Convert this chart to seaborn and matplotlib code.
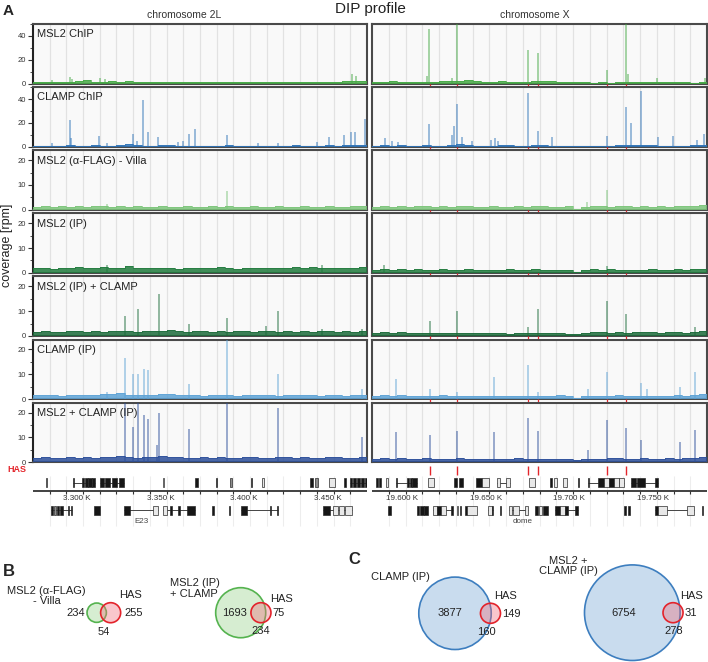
import numpy as np
import matplotlib.pyplot as plt
import seaborn as sns
from matplotlib.patches import Circle, Rectangle
from matplotlib.ticker import MultipleLocator

sns.set_theme(style='white')
plt.rcParams['font.family'] = ['Liberation Sans', 'DejaVu Sans']

W, H = 708, 662

# ---------------- data ----------------
track_names = ['MSL2 ChIP', 'CLAMP ChIP', 'MSL2 (\u03b1-FLAG) - Villa', 'MSL2 (IP)',
               'MSL2 (IP) + CLAMP', 'CLAMP (IP)', 'MSL2 + CLAMP (IP)']
track_colors = ['#45a845', '#2f74b8', '#7cc57a', '#1f7a3c', '#1b6b3a', '#5ea3d6', '#2c4f9a']
track_ymax = [50, 50, 24, 24, 24, 24, 24]
track_yticks = [[0, 20, 40], [0, 20, 40], [0, 10, 20], [0, 10, 20], [0, 10, 20], [0, 10, 20], [0, 10, 20]]

win_2L = (3273.7, 3473.7)      # kb
win_X = (19582.2, 19782.2)     # kb
bin_kb = 5

# baseline coverage, 5 kb bins
base_msl2chip_2L = [1.4, 1.2, 1.6, 1.3, 1.5, 2.2, 2.8, 1.6, 1.4, 1.8, 1.5, 2.4, 1.7, 1.3, 1.5, 1.2, 1.6, 1.4, 1.3, 1.5,
                    1.2, 1.4, 1.6, 1.3, 1.2, 1.5, 1.3, 1.1, 1.4, 1.2, 1.3, 1.5, 1.2, 1.4, 1.6, 1.3, 1.5, 1.8, 2.6, 2.2]
base_msl2chip_X = [1.2, 1.5, 1.8, 1.4, 1.6, 1.3, 1.5, 1.7, 2.6, 1.8, 2.2, 2.8, 1.9, 1.6, 1.4, 1.8, 1.5, 1.3, 1.6, 2.4,
                   1.9, 2.2, 1.5, 1.3, 1.1, 1.0, 0.9, 1.1, 0.8, 1.0, 1.2, 1.5, 1.4, 1.3, 1.6, 1.2, 1.5, 1.0, 0.8, 1.4]
base_clampchip_2L = [0.8, 1.0, 0.7, 0.9, 1.6, 0.9, 0.8, 1.2, 0.7, 0.9, 1.8, 2.0, 1.2, 0.8, 1.0, 1.4, 1.6, 0.9, 0.7, 0.8,
                     1.0, 0.7, 0.9, 1.1, 0.8, 0.7, 0.9, 0.8, 0.6, 0.8, 0.9, 1.2, 0.8, 0.7, 1.0, 1.3, 0.9, 1.1, 1.4, 1.6]
base_clampchip_X = [0.9, 1.2, 1.0, 1.1, 0.8, 0.9, 1.3, 0.8, 0.9, 1.4, 2.2, 1.3, 0.9, 0.8, 1.0, 1.5, 1.8, 1.0, 0.9, 1.6,
                    1.2, 0.9, 1.0, 0.8, 0.7, 0.8, 0.9, 0.7, 0.8, 1.2, 1.5, 1.3, 1.6, 1.1, 0.8, 0.9, 1.0, 0.8, 1.1, 1.4]
base_villa_2L = [1.1, 1.4, 1.2, 1.6, 1.3, 1.5, 1.2, 1.4, 1.7, 1.3, 1.5, 1.2, 1.4, 1.3, 1.1, 1.5, 1.2, 1.3, 1.4, 1.2,
                 1.3, 1.5, 1.1, 1.4, 1.2, 1.3, 1.5, 1.2, 1.1, 1.4, 1.3, 1.2, 1.5, 1.3, 1.1, 1.4, 1.2, 1.3, 1.5, 1.4]
base_villa_X = [1.3, 1.5, 1.2, 1.4, 1.3, 1.6, 1.4, 1.2, 1.5, 1.3, 1.4, 1.6, 1.3, 1.2, 1.4, 1.1, 1.3, 1.5, 1.2, 1.4,
                1.6, 1.3, 1.2, 1.4, 0.2, 1.3, 1.7, 1.5, 1.3, 1.6, 1.4, 1.2, 1.4, 1.3, 1.5, 1.2, 1.4, 1.6, 1.5, 1.8]
base_msl2ip_2L = [1.8, 2.1, 1.7, 2.0, 1.9, 2.2, 1.8, 2.0, 2.3, 1.9, 2.1, 2.6, 2.0, 1.8, 2.1, 1.9, 2.0, 1.7, 2.1, 1.9,
                  1.8, 2.0, 2.2, 1.9, 1.7, 2.0, 1.8, 2.1, 1.9, 2.0, 1.8, 2.2, 1.9, 2.4, 2.0, 1.8, 2.1, 1.9, 2.0, 2.2]
base_msl2ip_X = [1.2, 1.6, 1.3, 1.4, 1.2, 1.5, 1.3, 1.1, 1.4, 1.2, 1.3, 1.5, 1.2, 1.1, 1.3, 1.2, 1.4, 1.1, 1.3, 1.5,
                 1.2, 1.1, 1.3, 1.2, 0.2, 1.2, 1.4, 1.3, 1.6, 1.2, 1.1, 1.3, 1.2, 1.4, 1.2, 1.3, 1.4, 1.3, 1.5, 1.4]
base_msl2ipclamp_2L = [1.7, 2.0, 1.8, 1.6, 2.1, 1.9, 1.7, 2.0, 1.8, 2.2, 1.9, 2.1, 1.7, 1.9, 2.2, 2.0, 2.4, 2.1, 1.8, 2.0,
                       1.9, 1.7, 2.1, 1.8, 2.0, 1.9, 1.7, 2.0, 2.2, 1.8, 1.9, 1.7, 2.0, 1.8, 2.1, 1.9, 1.7, 2.0, 1.8, 1.9]
base_msl2ipclamp_X = [1.3, 1.6, 1.4, 1.7, 1.2, 1.4, 1.3, 1.2, 1.4, 1.3, 1.1, 1.3, 1.2, 1.1, 1.3, 1.2, 1.0, 1.1, 1.3, 1.2,
                      1.1, 1.3, 1.2, 1.0, 0.8, 1.4, 1.5, 1.6, 1.4, 1.5, 1.3, 1.6, 1.7, 1.5, 1.4, 1.6, 1.5, 1.3, 1.8, 2.0]
base_clampip_2L = [1.5, 1.8, 1.6, 1.4, 1.7, 1.5, 1.8, 1.6, 1.9, 2.0, 2.4, 1.7, 1.5, 1.6, 1.8, 1.9, 2.1, 1.7, 1.5, 1.6,
                   1.4, 1.6, 1.7, 1.5, 1.4, 1.6, 1.5, 1.7, 1.6, 1.4, 1.5, 1.7, 1.6, 1.5, 1.4, 1.6, 1.5, 1.4, 1.6, 1.5]
base_clampip_X = [1.3, 1.5, 1.4, 1.6, 1.3, 1.2, 1.4, 1.3, 1.5, 1.2, 1.3, 1.4, 1.2, 1.3, 1.1, 1.3, 1.2, 1.4, 1.3, 1.2,
                  1.4, 1.3, 1.5, 1.2, 0.6, 1.3, 1.4, 1.2, 1.3, 1.5, 1.4, 1.3, 1.2, 1.4, 1.3, 1.2, 1.5, 1.4, 1.7, 1.9]
base_msl2clampip_2L = [1.6, 1.9, 1.7, 1.8, 2.0, 1.7, 1.9, 1.8, 2.1, 1.9, 2.3, 2.0, 1.8, 2.2, 2.0, 2.4, 2.1, 1.9, 1.7, 1.8,
                       2.0, 1.8, 1.9, 1.7, 1.8, 2.0, 1.9, 1.8, 1.7, 1.9, 2.0, 1.8, 1.9, 1.7, 1.8, 2.0, 1.9, 1.8, 1.7, 1.9]
base_msl2clampip_X = [1.4, 1.6, 1.3, 1.5, 1.4, 1.3, 1.5, 1.2, 1.4, 1.3, 1.5, 1.4, 1.2, 1.3, 1.4, 1.2, 1.3, 1.5, 1.3, 1.4,
                      1.2, 1.3, 1.4, 1.2, 0.9, 1.3, 1.4, 1.3, 1.5, 1.6, 1.4, 1.3, 1.5, 1.4, 1.3, 1.5, 1.4, 1.6, 1.8, 2.0]

# peaks: (position kb, coverage rpm)
peaks_msl2chip_2L = [(3284.9, 3), (3295.9, 5.5), (3297.0, 4), (3313.8, 5), (3316.8, 3.5), (3464.7, 8), (3467.1, 6)]
peaks_msl2chip_X = [(19615.0, 6), (19616.2, 46), (19630.0, 5), (19633.2, 50), (19675.2, 28), (19681.5, 26),
                    (19722.7, 11), (19733.7, 50), (19735.0, 8), (19752.2, 5), (19781.0, 5)]
peaks_clampchip_2L = [(3284.9, 3), (3295.9, 22.5), (3296.6, 7), (3313.4, 9), (3317.8, 3), (3333.4, 10.5), (3335.8, 5),
                      (3339.7, 39), (3342.4, 12), (3348.7, 8), (3360.3, 4), (3363.7, 5), (3367.3, 10.5), (3370.7, 15),
                      (3389.7, 10), (3408.6, 3), (3420.2, 3), (3443.6, 4), (3451.0, 8), (3460.1, 10), (3464.1, 12.5),
                      (3466.5, 12), (3472.5, 23)]
peaks_clampchip_X = [(19590.0, 7), (19594.1, 5), (19597.7, 4), (19616.2, 19), (19629.8, 10), (19631.2, 17),
                     (19633.2, 36), (19635.8, 8), (19642.1, 5), (19653.5, 6), (19655.6, 7), (19657.5, 5),
                     (19675.2, 45), (19681.5, 13), (19689.5, 8), (19722.7, 9), (19733.7, 33), (19736.8, 20),
                     (19742.8, 47), (19753.1, 8), (19762.1, 9), (19776.0, 6), (19780.6, 11)]
peaks_villa_2L = [(3317.8, 2.5), (3389.7, 7.5)]
peaks_villa_X = [(19710.4, 3), (19722.7, 8)]
peaks_msl2ip_2L = [(3317.8, 3.2), (3446.6, 3.0)]
peaks_msl2ip_X = [(19589.4, 3.0), (19722.7, 2.8)]
peaks_msl2ipclamp_2L = [(3329.0, 8), (3336.4, 11), (3349.0, 17), (3367.3, 5), (3389.7, 7.3), (3413.2, 4),
                        (3420.2, 10), (3446.6, 3), (3470.7, 3)]
peaks_msl2ipclamp_X = [(19616.6, 6), (19633.2, 10), (19675.2, 3.5), (19681.5, 11), (19722.7, 14), (19733.7, 9),
                       (19775.0, 3.5)]
peaks_clampip_2L = [(3317.8, 3), (3329.0, 16.7), (3333.4, 10), (3336.4, 10), (3340.2, 12.3), (3342.4, 11.6),
                    (3367.3, 6), (3389.7, 24), (3420.2, 10), (3470.7, 4)]
peaks_clampip_X = [(19596.5, 8), (19616.6, 4), (19633.2, 3), (19655.2, 9), (19675.2, 13.8), (19681.5, 3),
                   (19711.3, 4), (19722.7, 11), (19742.8, 6.5), (19746.2, 4), (19766.1, 5), (19775.0, 11)]
peaks_msl2clampip_2L = [(3329.0, 26), (3333.4, 14), (3336.4, 26), (3340.2, 19), (3342.4, 17.5), (3347.8, 7),
                        (3349.0, 20), (3367.3, 13.5), (3389.7, 26), (3420.2, 22), (3470.7, 10)]
peaks_msl2clampip_X = [(19596.5, 12), (19616.6, 11), (19633.2, 12.7), (19655.2, 12), (19675.2, 18), (19681.5, 12.5),
                       (19711.3, 5), (19722.7, 17), (19733.7, 13.6), (19742.8, 9), (19766.1, 8), (19775.0, 13)]

has_X = [19616.8, 19633.1, 19675.2, 19681.5, 19722.7, 19733.7]

axis_labels_2L = [3300, 3350, 3400, 3450]
axis_labels_X = [19600, 19650, 19700, 19750]

# gene models: exons (start, end, style) and intron lines (start, end), kb
genes_2L_top_exons = [
    (3281.3, 3282.3, 'g'),
    (3297.7, 3298.3, 'f'), (3303.0, 3304.2, 'f'), (3304.8, 3306.6, 'f'), (3306.9, 3309.0, 'f'), (3309.3, 3310.8, 'f'),
    (3313.8, 3316.2, 'f'), (3317.1, 3319.8, 'f'), (3321.0, 3324.0, 'f'), (3325.2, 3328.2, 'f'),
    (3351.4, 3352.4, 'o'), (3370.7, 3372.5, 'f'), (3383.3, 3383.9, 'f'), (3391.7, 3392.9, 'g'),
    (3404.2, 3404.8, 'f'), (3410.8, 3412.0, 'o'),
    (3439.8, 3441.4, 'f'), (3442.4, 3444.4, 'g'), (3451.1, 3454.5, 'o'), (3460.0, 3461.2, 'f'),
    (3463.6, 3464.8, 'f'), (3465.3, 3467.1, 'f'), (3467.7, 3469.5, 'f'), (3470.1, 3471.9, 'f'), (3472.5, 3473.7, 'f'),
]
genes_2L_top_lines = [(3297.7, 3310.8), (3313.8, 3328.2), (3463.6, 3473.7)]
genes_2L_bot_exons = [
    (3284.5, 3285.7, 'f'), (3286.0, 3287.5, 'g'), (3287.8, 3289.3, 'f'), (3289.6, 3291.7, 'f'),
    (3294.4, 3295.0, 'f'), (3296.5, 3297.1, 'f'), (3310.2, 3313.8, 'f'),
    (3328.2, 3331.8, 'f'), (3345.6, 3348.6, 'o'),
    (3351.4, 3354.0, 'o'), (3355.7, 3356.7, 'f'), (3360.3, 3361.7, 'f'), (3365.7, 3370.7, 'f'),
    (3380.9, 3382.1, 'f'), (3391.1, 3391.7, 'f'),
    (3398.2, 3401.8, 'f'), (3415.6, 3416.2, 'f'), (3419.8, 3420.4, 'f'),
    (3447.6, 3451.6, 'f'), (3453.5, 3456.3, 'o'), (3456.9, 3459.9, 'o'), (3460.5, 3464.5, 'o'),
]
genes_2L_bot_lines = [(3284.5, 3297.1), (3328.2, 3348.6), (3351.4, 3370.7), (3398.2, 3420.4), (3447.6, 3464.5)]
gene_names_2L = [(3338.4, 'E23')]

genes_X_top_exons = [
    (19584.4, 19585.8, 'f'), (19586.1, 19587.6, 'f'), (19590.4, 19591.8, 'o'),
    (19596.6, 19597.2, 'f'), (19602.9, 19604.3, 'f'), (19604.6, 19606.0, 'f'), (19606.3, 19608.8, 'f'),
    (19615.5, 19619.0, 'o'), (19631.0, 19632.8, 'f'), (19634.1, 19636.6, 'f'),
    (19644.3, 19647.9, 'f'), (19647.9, 19652.0, 'o'), (19656.6, 19658.6, 'o'), (19662.2, 19664.6, 'o'),
    (19675.9, 19679.8, 'o'), (19688.5, 19689.7, 'f'), (19690.9, 19692.5, 'o'), (19696.2, 19698.6, 'o'),
    (19705.0, 19705.6, 'f'),
    (19711.2, 19711.8, 'f'), (19717.2, 19720.8, 'f'), (19720.8, 19723.8, 'o'), (19723.8, 19726.8, 'f'),
    (19726.8, 19729.8, 'o'), (19729.8, 19732.8, 'o'),
    (19736.6, 19739.8, 'f'), (19740.3, 19745.2, 'f'), (19751.2, 19752.8, 'f'),
]
genes_X_top_lines = [(19596.6, 19608.8), (19656.6, 19664.6), (19711.2, 19732.8), (19736.6, 19752.8)]
genes_X_bot_exons = [
    (19591.8, 19593.5, 'f'),
    (19608.9, 19610.3, 'f'), (19610.9, 19613.2, 'f'), (19613.5, 19615.6, 'f'),
    (19618.4, 19620.9, 'o'), (19621.3, 19623.3, 'f'), (19623.6, 19626.3, 'o'), (19629.6, 19630.8, 'f'),
    (19632.8, 19633.6, 'o'), (19634.7, 19635.5, 'f'), (19637.7, 19638.9, 'f'), (19638.9, 19644.7, 'o'),
    (19651.5, 19653.9, 'o'), (19653.9, 19654.4, 'f'), (19658.6, 19659.2, 'f'),
    (19664.0, 19665.8, 'o'), (19666.4, 19670.0, 'o'), (19673.6, 19675.4, 'o'),
    (19679.5, 19681.3, 'f'), (19681.9, 19683.7, 'o'), (19684.3, 19687.3, 'f'),
    (19691.5, 19694.5, 'f'), (19694.5, 19697.5, 'o'), (19697.5, 19699.3, 'f'), (19703.4, 19705.2, 'f'),
    (19732.6, 19733.8, 'f'), (19735.0, 19736.2, 'f'),
    (19751.1, 19752.9, 'f'), (19752.9, 19758.3, 'o'), (19770.3, 19774.5, 'o'), (19779.0, 19779.6, 'f'),
]
genes_X_bot_lines = [(19618.4, 19630.8), (19651.5, 19654.4), (19664.0, 19675.4), (19691.5, 19705.2),
                     (19751.1, 19774.5)]
gene_names_X = [(19672.3, 'dome')]

# Venn counts
venn_titles = ['MSL2 (\u03b1-FLAG)\n- Villa', 'MSL2 (IP)\n+ CLAMP', 'CLAMP (IP)', 'MSL2 +\nCLAMP (IP)']
venn_only_sample = [234, 1693, 3877, 6754]
venn_shared = [54, 234, 160, 278]
venn_only_has = [255, 75, 149, 31]

# ---------------- figure ----------------
fig = plt.figure(figsize=(W / 100, H / 100), dpi=100)


def add_ax(x0, y0, x1, y1):
    return fig.add_axes([x0 / W, 1 - y1 / H, (x1 - x0) / W, (y1 - y0) / H])


bases_2L = [base_msl2chip_2L, base_clampchip_2L, base_villa_2L, base_msl2ip_2L,
            base_msl2ipclamp_2L, base_clampip_2L, base_msl2clampip_2L]
bases_X = [base_msl2chip_X, base_clampchip_X, base_villa_X, base_msl2ip_X,
           base_msl2ipclamp_X, base_clampip_X, base_msl2clampip_X]
peaks_2L = [peaks_msl2chip_2L, peaks_clampchip_2L, peaks_villa_2L, peaks_msl2ip_2L,
            peaks_msl2ipclamp_2L, peaks_clampip_2L, peaks_msl2clampip_2L]
peaks_X = [peaks_msl2chip_X, peaks_clampchip_X, peaks_villa_X, peaks_msl2ip_X,
           peaks_msl2ipclamp_X, peaks_clampip_X, peaks_msl2clampip_X]

panels = [(33, 367, win_2L, bases_2L, peaks_2L), (372, 707, win_X, bases_X, peaks_X)]
has_red = '#e4262c'

for i in range(7):
    top = 24 + i * 63.1
    bot = top + 59.6
    c = track_colors[i]
    for p, (x0, x1, win, bases, peaks) in enumerate(panels):
        ax = add_ax(x0, top, x1, bot)
        ax.set_facecolor('#f9f9f9')
        lo, hi = win
        grid = lo + (hi - lo) / 20 * np.arange(1, 20)
        for g in grid:
            ax.axvline(g, color='#e2e2e2', lw=0.9, zorder=0)

        vals = bases[i]
        edges = lo + bin_kb * np.arange(len(vals) + 1)
        yv = list(vals) + [vals[-1]]
        ax.fill_between(edges, yv, step='post', color=c, lw=0, alpha=0.85, zorder=3)
        sns.lineplot(x=edges, y=yv, ax=ax, color=c, lw=0.5, drawstyle='steps-post', zorder=3)

        pos = [q[0] for q in peaks[i]]
        hts = [q[1] for q in peaks[i]]
        ax.vlines(pos, 0, hts, color=c, alpha=0.6, lw=1.1, zorder=3)

        ax.set_xlim(lo, hi)
        ax.set_ylim(0, track_ymax[i])
        ax.set_xlabel('')
        ax.set_ylabel('')
        ax.set_xticks([])
        for s in ax.spines.values():
            s.set_color('#4a4a4a')
            s.set_linewidth(1.5)
        if p == 0:
            ax.spines['left'].set_color('#222222')
            ax.set_yticks(track_yticks[i])
            ax.yaxis.set_minor_locator(MultipleLocator(track_yticks[i][1] / 2))
            ax.tick_params(axis='y', which='major', left=True, length=3.5, width=0.8,
                           labelsize=5.5, pad=1.5, colors='#333333')
            ax.tick_params(axis='y', which='minor', left=True, length=2, width=0.6, colors='#333333')
            ax.text(0.012, 0.91, track_names[i], transform=ax.transAxes, va='top', ha='left',
                    fontsize=8, color='#222222')
        else:
            ax.set_yticks([])
            if i < 6:
                ax.vlines(has_X, -0.07, 0, transform=ax.get_xaxis_transform(), color=has_red,
                          lw=0.9, clip_on=False, zorder=5)

# gene annotation + genome axis
annot = [(33, 367, win_2L, axis_labels_2L, genes_2L_top_exons, genes_2L_top_lines,
          genes_2L_bot_exons, genes_2L_bot_lines, gene_names_2L, []),
         (372, 707, win_X, axis_labels_X, genes_X_top_exons, genes_X_top_lines,
          genes_X_bot_exons, genes_X_bot_lines, gene_names_X, has_X)]
exon_face = {'f': '#161616', 'g': '#8c8c8c', 'o': '#e8e8e8'}

for (x0, x1, win, labs, te, tl, be, bl, names, has) in annot:
    ax = add_ax(x0, 463, x1, 528)
    lo, hi = win
    ax.set_xlim(lo, hi)
    ax.set_ylim(528, 463)
    ax.axis('off')
    grid = lo + (hi - lo) / 20 * np.arange(1, 20)
    ax.vlines(grid, 476, 526, color='#ededed', lw=0.8, zorder=0)
    ax.hlines(490.5, lo, hi, color='#333333', lw=1.3)
    ax.vlines(grid, 490.5, 493.5, color='#333333', lw=0.8)
    for v in labs:
        ax.text(v, 499, f'{v / 1000:.3f} K', ha='center', va='center', fontsize=5.8, color='#333333')
    if has:
        ax.vlines(has, 466, 474.5, color=has_red, lw=1.0)
    for exons, lines, ymid in [(te, tl, 482.5), (be, bl, 510)]:
        for s, e in lines:
            ax.hlines(ymid, s, e, color='#444444', lw=0.7, zorder=1)
        for s, e, st in exons:
            ax.add_patch(Rectangle((s, ymid - 4.5), e - s, 9, facecolor=exon_face[st],
                                   edgecolor='#2a2a2a', lw=0.5, zorder=2))
    for v, n in names:
        ax.text(v, 521.5, n, ha='center', va='center', fontsize=5.8, color='#444444')

fig.text(26.5 / W, 1 - 470 / H, 'HAS', ha='right', va='center', fontsize=6.5, fontweight='bold', color=has_red)

# titles
fig.text(3 / W, 1 - 4 / H, 'A', ha='left', va='top', fontsize=11, fontweight='bold')
fig.text(370 / W, 1 - 8.5 / H, 'DIP profile', ha='center', va='center', fontsize=11, color='#222222')
fig.text(184 / W, 1 - 15 / H, 'chromosome 2L', ha='center', va='center', fontsize=7.5, color='#333333')
fig.text(535 / W, 1 - 15 / H, 'chromosome X', ha='center', va='center', fontsize=7.5, color='#333333')
fig.text(7 / W, 1 - 245 / H, 'coverage [rpm]', ha='center', va='center', rotation=90, fontsize=9,
         color='#222222')
fig.text(3 / W, 1 - 564 / H, 'B', ha='left', va='top', fontsize=12, fontweight='bold')
fig.text(348 / W, 1 - 552 / H, 'C', ha='left', va='top', fontsize=12, fontweight='bold')

# ---------------- Venn diagrams ----------------
vax = add_ax(0, 535, 708, 662)
vax.set_xlim(0, W)
vax.set_ylim(662, 535)
vax.axis('off')


def lens_area(r1, r2, d):
    if d >= r1 + r2:
        return 0.0
    if d <= abs(r1 - r2):
        return np.pi * min(r1, r2) ** 2
    a1 = r1 ** 2 * np.arccos((d ** 2 + r1 ** 2 - r2 ** 2) / (2 * d * r1))
    a2 = r2 ** 2 * np.arccos((d ** 2 + r2 ** 2 - r1 ** 2) / (2 * d * r2))
    a3 = 0.5 * np.sqrt((-d + r1 + r2) * (d + r1 - r2) * (d - r1 + r2) * (d + r1 + r2))
    return a1 + a2 - a3


def center_distance(r1, r2, target):
    a, b = abs(r1 - r2) + 1e-6, r1 + r2
    for _ in range(60):
        m = 0.5 * (a + b)
        if lens_area(r1, r2, m) > target:
            a = m
        else:
            b = m
    return 0.5 * (a + b)


venn_scale = 0.57
venn_center = [(96.7, 612.7), (240.7, 612.7), (455, 613.3), (632.3, 612.7)]
venn_title_pos = [(46.7, 596, 'center'), (170, 588.5, 'left'), (400, 577, 'center'), (568, 566, 'center')]
venn_sample_pos = [(76, 613.3), (235, 612.7), (450, 613.3), (624, 613.3)]
venn_shared_pos = [(103.3, 631.7), (261, 631), (486.7, 631.7), (673.3, 631)]
venn_has_pos = [(133.3, 613.3), (278.3, 612.7), (511.7, 614.3), (691, 613.3)]
venn_haslabel_pos = [(130.7, 595), (281.7, 599.3), (505.7, 596), (691.7, 596)]
venn_face = ['#d6edd1', '#d6edd1', '#c9dcee', '#c9dcee']
venn_edge = ['#55b34f', '#55b34f', '#3d7ebf', '#3d7ebf']

for k in range(4):
    n_a = venn_only_sample[k] + venn_shared[k]
    n_h = venn_only_has[k] + venn_shared[k]
    r_a = venn_scale * np.sqrt(n_a)
    r_h = venn_scale * np.sqrt(n_h)
    d = center_distance(r_a, r_h, np.pi * venn_scale ** 2 * venn_shared[k])
    cx, cy = venn_center[k]
    vax.add_patch(Circle((cx, cy), r_a, facecolor=venn_face[k], edgecolor=venn_edge[k], lw=1.2, zorder=1))
    vax.add_patch(Circle((cx + d, cy), r_h, facecolor=(0.94, 0.42, 0.48, 0.38), edgecolor='#e3232b',
                         lw=1.2, zorder=2))
    tx, ty, ha = venn_title_pos[k]
    vax.text(tx, ty, venn_titles[k], ha=ha, va='center', multialignment='center' if ha == 'center' else 'left',
             fontsize=8, linespacing=1.05, color='#222222')
    vax.text(*venn_sample_pos[k], str(venn_only_sample[k]), ha='center', va='center', fontsize=8,
             color='#222222', zorder=3)
    vax.text(*venn_shared_pos[k], str(venn_shared[k]), ha='center', va='center', fontsize=8,
             color='#222222', zorder=3)
    vax.text(*venn_has_pos[k], str(venn_only_has[k]), ha='center', va='center', fontsize=8,
             color='#222222', zorder=3)
    vax.text(*venn_haslabel_pos[k], 'HAS', ha='center', va='center', fontsize=8, color='#222222', zorder=3)

fig.savefig('out.png', dpi=100)
